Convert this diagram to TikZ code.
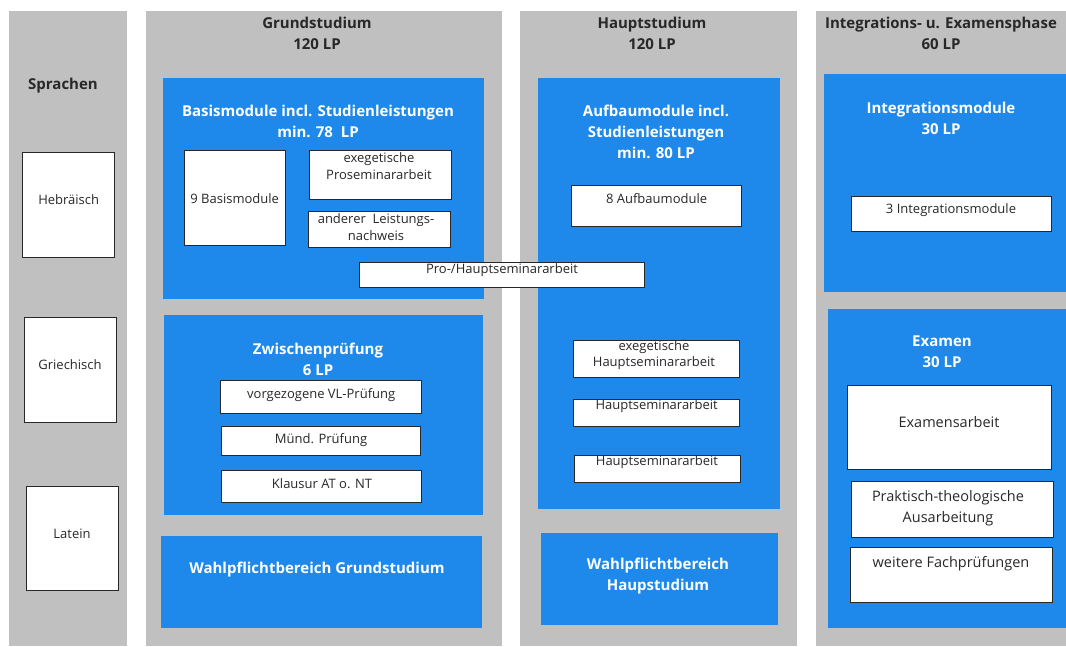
\documentclass[tikz,border=0pt]{standalone}
\usepackage{fontspec}
\setmainfont{Open Sans}
\definecolor{colgray}{RGB}{192,192,192}
\definecolor{modblue}{RGB}{30,137,234}
\definecolor{txtdark}{RGB}{40,40,40}
\begin{document}
\begin{tikzpicture}[x=1pt,y=-1pt,
  col/.style={fill=colgray, draw=none, anchor=north west, inner sep=0pt, outer sep=0pt},
  blu/.style={fill=modblue, draw=none, anchor=north west, inner sep=0pt, outer sep=0pt},
  wbox/.style={fill=white, draw=txtdark, line width=1pt, anchor=north west, inner sep=0pt, outer sep=0pt},
  hd/.style={font=\bfseries\fontsize{15}{21}\selectfont, align=center, text=txtdark, inner sep=0pt},
  bhd/.style={font=\bfseries\fontsize{15}{21}\selectfont, align=center, text=white, inner sep=0pt},
  lbl/.style={font=\fontsize{13}{17}\selectfont, align=center, text=txtdark, inner sep=0pt},
  lblb/.style={font=\fontsize{14.5}{21}\selectfont, align=center, text=txtdark, inner sep=0pt}]
\useasboundingbox[fill=white] (0,0) rectangle (1066,646);
% columns
\node[col, minimum width=118pt, minimum height=635pt] (colS) at (9,11) {};
\node[col, minimum width=356pt, minimum height=635pt] (colG) at (146,11) {};
\node[col, minimum width=277pt, minimum height=635pt] (colH) at (520,11) {};
\node[col, minimum width=250pt, minimum height=635pt] (colI) at (816,11) {};
% column headers
\node[hd] (hS) at (63,85.5) {Sprachen};
\node[hd] (hG) at (317,33.5) {Grundstudium\\120 LP};
\node[hd] (hH) at (652,33.5) {Hauptstudium\\120 LP};
\node[hd] (hI) at (941,33.5) {Integrations- u. Examensphase\\60 LP};
% blue boxes
\node[blu, minimum width=320.5pt, minimum height=221pt] (basis) at (163,78) {};
\node[blu, minimum width=319.4pt, minimum height=200pt] (zwisch) at (163.6,315) {};
\node[blu, minimum width=320.7pt, minimum height=92pt] (wpG) at (161,536) {};
\node[blu, minimum width=242pt, minimum height=431pt] (aufbau) at (538,78) {};
\node[blu, minimum width=237pt, minimum height=92pt] (wpH) at (541,533) {};
\node[blu, minimum width=242.4pt, minimum height=218pt] (integ) at (823.6,74) {};
\node[blu, minimum width=238.2pt, minimum height=319pt] (examen) at (827.8,309) {};
% blue headers
\node[bhd] (tbasis) at (318,121.5) {Basismodule incl. Studienleistungen\\min. 78\ \ LP};
\node[bhd] (taufbau) at (656,132) {Aufbaumodule incl.\\Studienleistungen\\min. 80 LP};
\node[bhd] (tzwisch) at (318,359) {Zwischenprüfung\\6 LP};
\node[bhd] (twpG) at (317,569.5) {Wahlpflichtbereich Grundstudium};
\node[bhd] (twpH) at (658,576.5) {Wahlpflichtbereich\\Haupstudium};
\node[bhd] (tinteg) at (941,118) {Integrationsmodule\\30 LP};
\node[bhd] (texamen) at (942,352) {Examen\\30 LP};
% language boxes
\node[wbox, minimum width=92pt, minimum height=105pt] (heb) at (22.7,152) {};
\node[lbl] (theb) at (68.7,200) {Hebräisch};
\node[wbox, minimum width=92pt, minimum height=105pt] (grie) at (24,317) {};
\node[lbl] (tgrie) at (70,365) {Griechisch};
\node[wbox, minimum width=92pt, minimum height=104pt] (lat) at (26,486) {};
\node[lbl] (tlat) at (72,533.5) {Latein};
% Basismodule contents
\node[wbox, minimum width=101.5pt, minimum height=95pt] (b9) at (184,150) {};
\node[lbl] (tb9) at (234.7,198.5) {9 Basismodule};
\node[wbox, minimum width=141.4pt, minimum height=49pt] (exPS) at (309.6,150) {};
\node[lbl] (texPS) at (379,166) {exegetische\\Proseminararbeit};
\node[wbox, minimum width=142.7pt, minimum height=36pt] (andere) at (308,211) {};
\node[lbl] (tandere) at (376,227) {anderer\ \ Leistungs-\\nachweis};
% Zwischenpruefung contents
\node[wbox, minimum width=201pt, minimum height=33pt] (vorg) at (220.7,380) {};
\node[lbl] (tvorg) at (321.2,395) {vorgezogene VL-Prüfung};
\node[wbox, minimum width=199pt, minimum height=29pt] (muend) at (221.4,426) {};
\node[lbl] (tmuend) at (321,440) {Münd. Prüfung};
\node[wbox, minimum width=200pt, minimum height=32pt] (klaus) at (221.8,470) {};
\node[lbl] (tklaus) at (322,484) {Klausur AT o. NT};
% Aufbaumodule contents
\node[wbox, minimum width=170.3pt, minimum height=41pt] (a8) at (571.5,185) {};
\node[lbl] (ta8) at (656.6,199) {8 Aufbaumodule};
\node[wbox, minimum width=166pt, minimum height=37pt] (exHS) at (573,340) {};
\node[lbl, font=\fontsize{13}{16}\selectfont] (texHS) at (654,355.5) {exegetische\\Hauptseminararbeit};
\node[wbox, minimum width=166pt, minimum height=27pt] (hs1) at (573.6,399) {};
\node[lbl] (ths1) at (656.6,406.5) {Hauptseminararbeit};
\node[wbox, minimum width=166.8pt, minimum height=27pt] (hs2) at (574,455) {};
\node[lbl] (ths2) at (657,462.5) {Hauptseminararbeit};
% spanning box
\node[wbox, minimum width=285pt, minimum height=25pt] (prohs) at (359.5,262) {};
\node[lbl] (tprohs) at (502,270) {Pro-/Hauptseminararbeit};
% Integration / Examen contents
\node[wbox, minimum width=199.5pt, minimum height=35pt] (i3) at (851.5,196) {};
\node[lbl] (ti3) at (951,210) {3 Integrationsmodule};
\node[wbox, minimum width=204pt, minimum height=84pt] (exarb) at (847,385) {};
\node[lblb] (texarb) at (949,422) {Examensarbeit};
\node[wbox, minimum width=201.6pt, minimum height=56pt] (prakt) at (851.8,481) {};
\node[lblb] (tprakt) at (948,508.5) {Praktisch-theologische\\Ausarbeitung};
\node[wbox, minimum width=202.4pt, minimum height=55pt] (weitere) at (850,547) {};
\node[lblb] (tweitere) at (951,564) {weitere Fachprüfungen};
\end{tikzpicture}
\end{document}
